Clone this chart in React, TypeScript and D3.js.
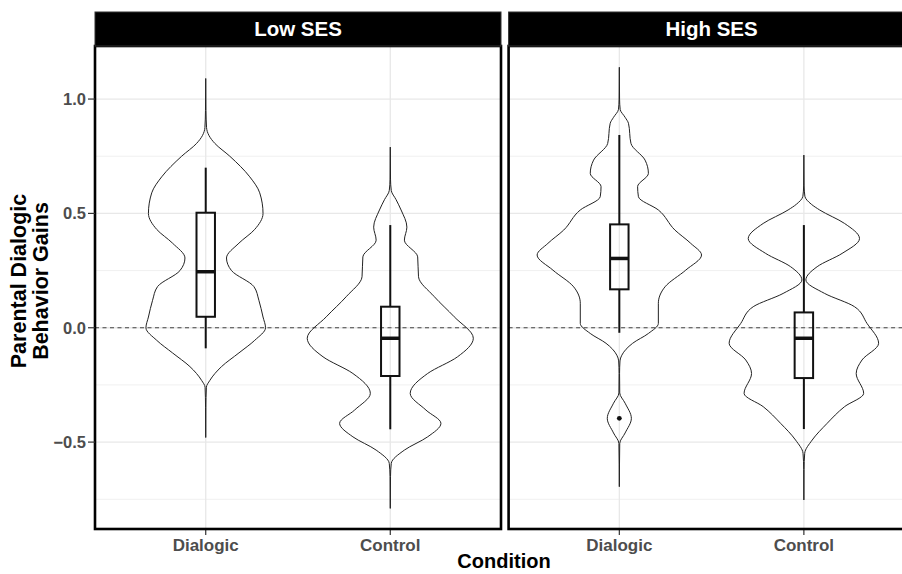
import React, { useRef, useEffect } from 'react';
import * as d3 from 'd3';

// facets and categories
const panels = ['Low SES', 'High SES'];
const conditions = ['Dialogic', 'Control'];
const yTicks = [-0.5, 0.0, 0.5, 1.0];
const yMinorTicks = [-0.75, -0.25, 0.25, 0.75];

// violin outlines: [value, relative density]
const lowDialogic: [number, number][] = [
  [1.09, 0], [0.95, 0.003], [0.875, 0.01], [0.84, 0.04], [0.806, 0.11], [0.75, 0.29], [0.66, 0.53], [0.59, 0.65],
  [0.5, 0.69], [0.43, 0.59], [0.37, 0.4], [0.305, 0.25], [0.25, 0.31], [0.18, 0.58], [0.12, 0.64],
  [0.047, 0.69], [0.0, 0.72], [-0.055, 0.59], [-0.11, 0.4], [-0.17, 0.19], [-0.23, 0.05],
  [-0.26, 0.008], [-0.35, 0.002], [-0.48, 0],
];
const lowControl: [number, number][] = [
  [0.79, 0], [0.65, 0.003], [0.6, 0.012], [0.56, 0.07], [0.515, 0.13], [0.44, 0.2], [0.383, 0.17], [0.31, 0.33],
  [0.223, 0.34], [0.136, 0.53], [0.048, 0.77], [-0.046, 1.0], [-0.127, 0.81], [-0.2, 0.45],
  [-0.287, 0.24], [-0.36, 0.43], [-0.418, 0.61], [-0.477, 0.45], [-0.535, 0.17], [-0.593, 0.012],
  [-0.65, 0.003], [-0.79, 0],
];
const highDialogic: [number, number][] = [
  [1.139, 0], [1.0, 0.003], [0.955, 0.01], [0.92, 0.07], [0.894, 0.11], [0.806, 0.14], [0.733, 0.31], [0.675, 0.35],
  [0.617, 0.22], [0.573, 0.23], [0.515, 0.47], [0.427, 0.67], [0.369, 0.86], [0.318, 0.99],
  [0.252, 0.8], [0.179, 0.55], [0.107, 0.47], [0.019, 0.47], [-0.025, 0.35], [-0.068, 0.16],
  [-0.12, 0.03], [-0.145, 0.008], [-0.2, 0.003], [-0.285, 0.005], [-0.33, 0.07], [-0.396, 0.145],
  [-0.46, 0.07], [-0.506, 0.005], [-0.6, 0.002], [-0.695, 0],
];
const highControl: [number, number][] = [
  [0.755, 0], [0.62, 0.003], [0.575, 0.012], [0.54, 0.09], [0.515, 0.19], [0.456, 0.49], [0.39, 0.67], [0.325, 0.46],
  [0.267, 0.16], [0.209, 0.024], [0.15, 0.25], [0.092, 0.61], [0.019, 0.76], [-0.068, 0.9],
  [-0.141, 0.7], [-0.2, 0.63], [-0.287, 0.72], [-0.345, 0.49], [-0.418, 0.28], [-0.491, 0.1],
  [-0.549, 0.01], [-0.62, 0.002], [-0.753, 0],
];

// boxplot stats: [lower whisker, q1, median, q3, upper whisker]
const lowDialogicBox = [-0.09, 0.048, 0.245, 0.503, 0.7];
const lowControlBox = [-0.444, -0.211, -0.046, 0.092, 0.449];
const highDialogicBox = [-0.022, 0.168, 0.303, 0.452, 0.843];
const highControlBox = [-0.443, -0.22, -0.046, 0.067, 0.449];
const highDialogicOutliers = [-0.396];

const violins = [[lowDialogic, lowControl], [highDialogic, highControl]];
const boxes = [[lowDialogicBox, lowControlBox], [highDialogicBox, highControlBox]];
const outliers = [[[], []], [highDialogicOutliers, []]];

const W = 902;
const H = 574;
const FONT = 'Liberation Sans, Arial, sans-serif';

const App: React.FC = () => {
  const ref = useRef<SVGSVGElement | null>(null);

  useEffect(() => {
    const svg = d3.select(ref.current);
    svg.selectAll('*').remove();

    const panelW = 406;
    const panelTop = 46;
    const panelBottom = 529;
    const stripTop = 12;
    const panelLefts = [95, 508.6];

    const y = d3.scaleLinear().domain([-0.88, 1.232]).range([panelBottom, panelTop]);

    panels.forEach((name, p) => {
      const left = panelLefts[p];
      const x = d3.scalePoint<string>().domain(conditions).range([left, left + panelW]).padding(0.6);
      const step = x.step();
      const wScale = d3.scaleLinear().domain([0, 1]).range([0, step * 0.45]);
      const g = svg.append('g');

      // grid
      yMinorTicks.forEach((t) => {
        g.append('line').attr('x1', left).attr('x2', left + panelW)
          .attr('y1', y(t)).attr('y2', y(t))
          .attr('stroke', '#f0f0f0').attr('stroke-width', 1);
      });
      yTicks.forEach((t) => {
        g.append('line').attr('x1', left).attr('x2', left + panelW)
          .attr('y1', y(t)).attr('y2', y(t))
          .attr('stroke', '#e8e8e8').attr('stroke-width', 1.3);
      });
      conditions.forEach((c) => {
        g.append('line').attr('x1', x(c)!).attr('x2', x(c)!)
          .attr('y1', panelTop).attr('y2', panelBottom)
          .attr('stroke', '#e8e8e8').attr('stroke-width', 1.3);
      });

      // reference line at zero
      g.append('line').attr('x1', left).attr('x2', left + panelW)
        .attr('y1', y(0)).attr('y2', y(0))
        .attr('stroke', '#444').attr('stroke-width', 1.1).attr('stroke-dasharray', '4,3.5');

      conditions.forEach((c, i) => {
        const cx = x(c)!;
        const area = d3.area<[number, number]>()
          .y((d) => y(d[0]))
          .x0((d) => cx - wScale(d[1]))
          .x1((d) => cx + wScale(d[1]))
          .curve(d3.curveMonotoneY);
        g.append('path')
          .attr('d', area(violins[p][i].slice().reverse())!)
          .attr('fill', 'none')
          .attr('stroke', '#222').attr('stroke-width', 1);

        const [lo, q1, med, q3, hi] = boxes[p][i];
        const bw = step * 0.1;
        g.append('line').attr('x1', cx).attr('x2', cx).attr('y1', y(hi)).attr('y2', y(q3))
          .attr('stroke', '#111').attr('stroke-width', 2);
        g.append('line').attr('x1', cx).attr('x2', cx).attr('y1', y(q1)).attr('y2', y(lo))
          .attr('stroke', '#111').attr('stroke-width', 2);
        g.append('rect').attr('x', cx - bw / 2).attr('width', bw)
          .attr('y', y(q3)).attr('height', y(q1) - y(q3))
          .attr('fill', 'none').attr('stroke', '#111').attr('stroke-width', 2);
        g.append('line').attr('x1', cx - bw / 2).attr('x2', cx + bw / 2)
          .attr('y1', y(med)).attr('y2', y(med))
          .attr('stroke', '#111').attr('stroke-width', 3.5);
        (outliers[p][i] as number[]).forEach((o) => {
          g.append('circle').attr('cx', cx).attr('cy', y(o)).attr('r', 2.4).attr('fill', '#111');
        });

        // x tick + label
        g.append('line').attr('x1', cx).attr('x2', cx)
          .attr('y1', panelBottom).attr('y2', panelBottom + 6)
          .attr('stroke', '#333').attr('stroke-width', 1.2);
        g.append('text').attr('x', cx).attr('y', panelBottom + 22)
          .attr('text-anchor', 'middle').attr('font-family', FONT)
          .attr('font-weight', 'bold').attr('font-size', 17).attr('fill', '#4d4d4d')
          .text(c);
      });

      // border
      g.append('rect').attr('x', left).attr('y', panelTop)
        .attr('width', panelW).attr('height', panelBottom - panelTop)
        .attr('fill', 'none').attr('stroke', '#000').attr('stroke-width', 2.6);

      // strip
      g.append('rect').attr('x', left).attr('y', stripTop)
        .attr('width', panelW).attr('height', panelTop - stripTop)
        .attr('fill', '#000').attr('stroke', '#333').attr('stroke-width', 1);
      g.append('text').attr('x', left + panelW / 2).attr('y', (stripTop + panelTop) / 2)
        .attr('dy', '0.36em').attr('text-anchor', 'middle').attr('font-family', FONT)
        .attr('font-weight', 'bold').attr('font-size', 20.5).attr('fill', '#fff')
        .text(name);
    });

    // y axis
    const yAxis = svg.append('g');
    yTicks.forEach((t) => {
      yAxis.append('line').attr('x1', 88).attr('x2', 95).attr('y1', y(t)).attr('y2', y(t))
        .attr('stroke', '#333').attr('stroke-width', 1.2);
      yAxis.append('text').attr('x', 86).attr('y', y(t)).attr('dy', '0.36em')
        .attr('text-anchor', 'end').attr('font-family', FONT)
        .attr('font-weight', 'bold').attr('font-size', 16.5).attr('fill', '#4d4d4d')
        .text(t < 0 ? '\u2212' + d3.format('.1f')(-t) : d3.format('.1f')(t));
    });

    // titles
    const yTitle = svg.append('text')
      .attr('transform', `translate(0, 281) rotate(-90)`)
      .attr('text-anchor', 'middle').attr('font-family', FONT)
      .attr('font-weight', 'bold').attr('font-size', 21.5).attr('fill', '#000');
    yTitle.append('tspan').attr('x', 0).attr('y', 25.5).text('Parental Dialogic');
    yTitle.append('tspan').attr('x', 0).attr('y', 48).text('Behavior Gains');

    svg.append('text').attr('x', 504).attr('y', 568)
      .attr('text-anchor', 'middle').attr('font-family', FONT)
      .attr('font-weight', 'bold').attr('font-size', 20).attr('fill', '#000')
      .text('Condition');
  }, []);

  return (
    <svg ref={ref} width={W} height={H}
      style={{ position: 'absolute', left: 0, top: 0, background: '#fff' }} />
  );
};

export default App;
